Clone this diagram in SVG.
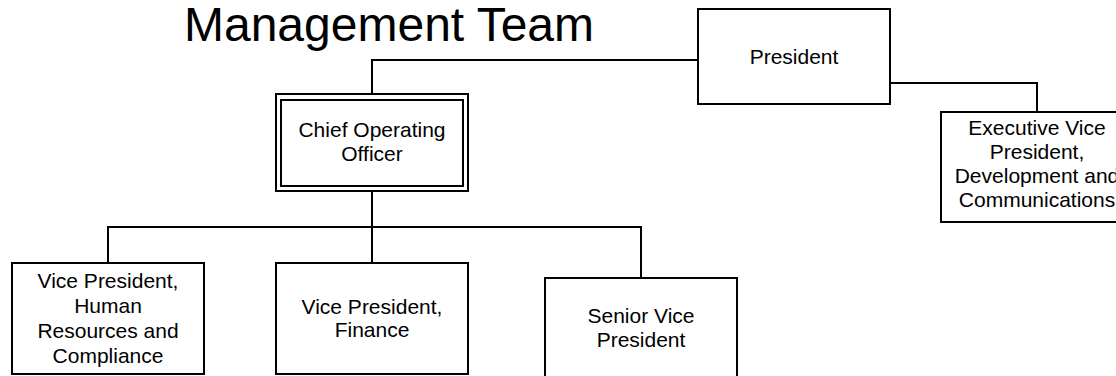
<svg xmlns="http://www.w3.org/2000/svg" width="1116" height="376" viewBox="0 0 1116 376">
<style>
.box{fill:#fff;stroke:#000;stroke-width:2}
.ln{fill:none;stroke:#000;stroke-width:2}
.t{font-family:"Liberation Sans",Arial,sans-serif;font-size:21px;fill:#000;text-anchor:middle}
.title{font-family:"Liberation Sans",Arial,sans-serif;font-size:48px;fill:#000;text-anchor:middle}
</style>
<rect width="1116" height="376" fill="#fff"/>
<text class="title" x="389" y="41">Management Team</text>
<g id="connectors">
<polyline class="ln" points="698,60 372,60 372,94"/>
<polyline class="ln" points="890,83 1037,83 1037,112"/>
<line class="ln" x1="372" y1="191" x2="372" y2="263"/>
<line class="ln" x1="107" y1="227" x2="642" y2="227"/>
<line class="ln" x1="108" y1="227" x2="108" y2="263"/>
<line class="ln" x1="641" y1="227" x2="641" y2="278"/>
</g>
<g id="president">
<rect class="box" x="698" y="9" width="192" height="95"/>
<text class="t" x="794" y="63.5">President</text>
</g>
<g id="evp">
<rect class="box" x="941" y="112" width="192" height="110"/>
<text class="t" x="1037" y="135">Executive Vice</text>
<text class="t" x="1037" y="158.5">President,</text>
<text class="t" x="1037" y="183">Development and</text>
<text class="t" x="1037" y="206.5">Communications</text>
</g>
<g id="coo">
<rect class="box" x="276" y="94" width="192" height="97"/>
<rect class="box" x="281" y="100" width="182" height="86"/>
<text class="t" x="372" y="137">Chief Operating</text>
<text class="t" x="372" y="161">Officer</text>
</g>
<g id="vp-hr">
<rect class="box" x="12" y="263" width="192" height="111"/>
<text class="t" x="108" y="287.5">Vice President,</text>
<text class="t" x="108" y="313">Human</text>
<text class="t" x="108" y="338">Resources and</text>
<text class="t" x="108" y="362.5">Compliance</text>
</g>
<g id="vp-finance">
<rect class="box" x="276" y="263" width="192" height="111"/>
<text class="t" x="372" y="313.5">Vice President,</text>
<text class="t" x="372" y="336.5">Finance</text>
</g>
<g id="svp">
<rect class="box" x="545" y="278" width="192" height="111"/>
<text class="t" x="641" y="323">Senior Vice</text>
<text class="t" x="641" y="346.5">President</text>
</g>
</svg>
